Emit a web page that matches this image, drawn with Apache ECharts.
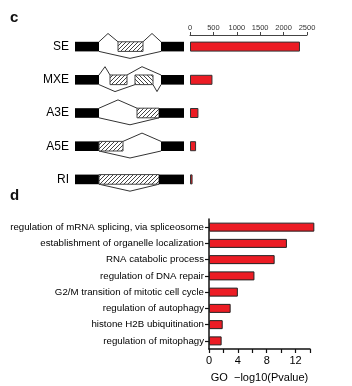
<!DOCTYPE html>
<html>
<head>
<meta charset="utf-8">
<script src="https://cdn.jsdelivr.net/npm/echarts@6/dist/echarts.min.js"></script>
<style>
  html, body { margin: 0; padding: 0; background: #fff; }
  #main { width: 352px; height: 386px; }
</style>
</head>
<body>
<div id="main"></div>
<script>
// panel c: splicing event types and counts
var eventTypes = ['SE', 'MXE', 'A3E', 'A5E', 'RI'];
var eventCounts = [2350, 480, 180, 130, 55];
var countTicks = [0, 500, 1000, 1500, 2000, 2500];

// schematic blocks: [row, start, end, kind]  kind 0 = constitutive exon, 1 = hatched, 2 = hatched other way
var exonBlocks = [
    [0, 0, 24, 0], [0, 43, 68, 1], [0, 86, 109, 0],
    [1, 0, 24, 0], [1, 35, 52, 1], [1, 60, 78, 2], [1, 86, 109, 0],
    [2, 0, 24, 0], [2, 62, 84, 1], [2, 84, 109, 0],
    [3, 0, 24, 0], [3, 24, 48, 1], [3, 86, 109, 0],
    [4, 0, 24, 0], [4, 24, 84, 1], [4, 84, 109, 0]
];
// junctions: [row, from, apex, to, side]  side 1 = above, -1 = below
var junctions = [
    [0, 24, 33, 43, 1], [0, 68, 77, 86, 1], [0, 24, 55, 86, -1],
    [1, 24, 30, 35, 1], [1, 52, 67, 86, 1], [1, 24, 40, 60, -1], [1, 78, 82, 86, -1],
    [2, 24, 43, 62, 1], [2, 24, 55, 84, -1],
    [3, 48, 67, 86, 1], [3, 24, 55, 86, -1],
    [4, 24, 55, 84, -1]
];

// panel d: GO terms
var goTerms = [
    'regulation of mRNA splicing, via spliceosome',
    'establishment of organelle localization',
    'RNA catabolic process',
    'regulation of DNA repair',
    'G2/M transition of mitotic cell cycle',
    'regulation of autophagy',
    'histone H2B ubiquitination',
    'regulation of mitophagy'
];
var goValues = [14.6, 10.8, 9.1, 6.3, 4.0, 3.0, 1.9, 1.75];
var goTicks = [0, 4, 8, 12];

var FONT = 'Liberation Sans, Arial, Helvetica, sans-serif';
var RED = '#ec1c24';

// 斜线填充
function makeHatch(back) {
    var c = document.createElement('canvas');
    c.width = 4; c.height = 4;
    var ctx = c.getContext('2d');
    ctx.fillStyle = '#fff';
    ctx.fillRect(0, 0, 4, 4);
    ctx.strokeStyle = '#444';
    ctx.lineWidth = 1;
    ctx.beginPath();
    if (!back) {
        ctx.moveTo(-1, 5); ctx.lineTo(5, -1);
        ctx.moveTo(-1, 1); ctx.lineTo(1, -1);
        ctx.moveTo(3, 5); ctx.lineTo(5, 3);
    } else {
        ctx.moveTo(-1, -1); ctx.lineTo(5, 5);
        ctx.moveTo(3, -1); ctx.lineTo(5, 1);
        ctx.moveTo(-1, 3); ctx.lineTo(1, 5);
    }
    ctx.stroke();
    return c;
}
var hatchA = { image: makeHatch(false), repeat: 'repeat' };
var hatchB = { image: makeHatch(true), repeat: 'repeat' };

function renderBlock(params, api) {
    var row = api.value(0);
    var p0 = api.coord([api.value(1), row]);
    var p1 = api.coord([api.value(2), row]);
    var h = api.size([0, 1])[1] * 0.29;
    var kind = api.value(3);
    var style = kind === 0
        ? { fill: '#000' }
        : { fill: kind === 1 ? hatchA : hatchB, stroke: '#444', lineWidth: 1 };
    return {
        type: 'rect',
        shape: { x: p0[0], y: p0[1] - h / 2, width: p1[0] - p0[0], height: h },
        style: style
    };
}

function renderJunction(params, api) {
    var row = api.value(0);
    var side = api.value(4);
    var band = api.size([0, 1])[1];
    var edge = side > 0 ? -band * 0.145 : band * 0.145;
    var rise = side > 0 ? -band * 0.25 : band * 0.21;
    var a = api.coord([api.value(1), row]);
    var m = api.coord([api.value(2), row]);
    var b = api.coord([api.value(3), row]);
    return {
        type: 'polyline',
        shape: { points: [[a[0], a[1] + edge], [m[0], m[1] + edge + rise], [b[0], b[1] + edge]] },
        style: { stroke: '#333', lineWidth: 1, fill: null }
    };
}

var option = {
    animation: false,
    textStyle: { fontFamily: FONT },
    title: [
        { text: 'c', left: 5, top: 5, textStyle: { fontSize: 15, fontWeight: 'bold', color: '#111', fontFamily: FONT } },
        { text: 'd', left: 5, top: 183, textStyle: { fontSize: 15, fontWeight: 'bold', color: '#111', fontFamily: FONT } }
    ],
    grid: [
        { left: 75, width: 110, top: 30, height: 166 },   // 示意图
        { left: 190, width: 117, top: 30, height: 166 },  // 事件数量
        { left: 209, width: 101, top: 219, height: 130 }  // GO
    ],
    xAxis: [
        { gridIndex: 0, type: 'value', min: 0, max: 110, show: false },
        {
            gridIndex: 1, type: 'value', position: 'top', offset: -5,
            min: countTicks[0], max: countTicks[countTicks.length - 1], interval: 500,
            axisLine: { show: true, lineStyle: { color: '#444', width: 1 } },
            axisTick: { show: true, length: 3, lineStyle: { color: '#444' } },
            axisLabel: {
                fontSize: 7.5, color: '#333', margin: 3, fontFamily: FONT,
                formatter: function (v) { return String(v); }
            },
            splitLine: { show: false }
        },
        {
            gridIndex: 2, type: 'value', min: 0, max: 14, interval: 2,
            axisLine: { show: true, lineStyle: { color: '#111', width: 1.5 } },
            axisTick: { show: true, length: 4, lineStyle: { color: '#111', width: 1.2 } },
            axisLabel: {
                fontSize: 11, color: '#000', margin: 6, fontFamily: FONT,
                formatter: function (v) { return goTicks.indexOf(v) >= 0 ? String(v) : ''; }
            },
            splitLine: { show: false },
            name: 'GO  \u2212log10(Pvalue)', nameLocation: 'middle', nameGap: 23,
            nameTextStyle: { fontSize: 11, color: '#000', fontFamily: FONT }
        }
    ],
    yAxis: [
        {
            gridIndex: 0, type: 'category', data: eventTypes, inverse: true,
            axisLine: { show: false }, axisTick: { show: false },
            axisLabel: { fontSize: 12, color: '#000', margin: 6, fontFamily: FONT }
        },
        { gridIndex: 1, type: 'category', data: eventTypes, inverse: true, show: false },
        {
            gridIndex: 2, type: 'category', data: goTerms, inverse: true,
            axisLine: { show: true, lineStyle: { color: '#111', width: 1.5 } },
            axisTick: { show: true, length: 4, alignWithLabel: true, lineStyle: { color: '#111', width: 1.2 } },
            axisLabel: { fontSize: 9.7, color: '#000', margin: 5, fontFamily: FONT }
        }
    ],
    series: [
        {
            type: 'custom', xAxisIndex: 0, yAxisIndex: 0,
            renderItem: renderJunction, data: junctions, silent: true
        },
        {
            type: 'custom', xAxisIndex: 0, yAxisIndex: 0,
            renderItem: renderBlock, data: exonBlocks, silent: true
        },
        {
            type: 'bar', xAxisIndex: 1, yAxisIndex: 1,
            data: eventCounts, barWidth: 10,
            itemStyle: { color: RED, borderColor: '#333', borderWidth: 1 }
        },
        {
            type: 'bar', xAxisIndex: 2, yAxisIndex: 2,
            data: goValues, barWidth: 9, clip: false,
            itemStyle: { color: RED, borderColor: '#222', borderWidth: 1 }
        }
    ]
};

var chart = echarts.init(document.getElementById('main'));
chart.setOption(option);
</script>
</body>
</html>
